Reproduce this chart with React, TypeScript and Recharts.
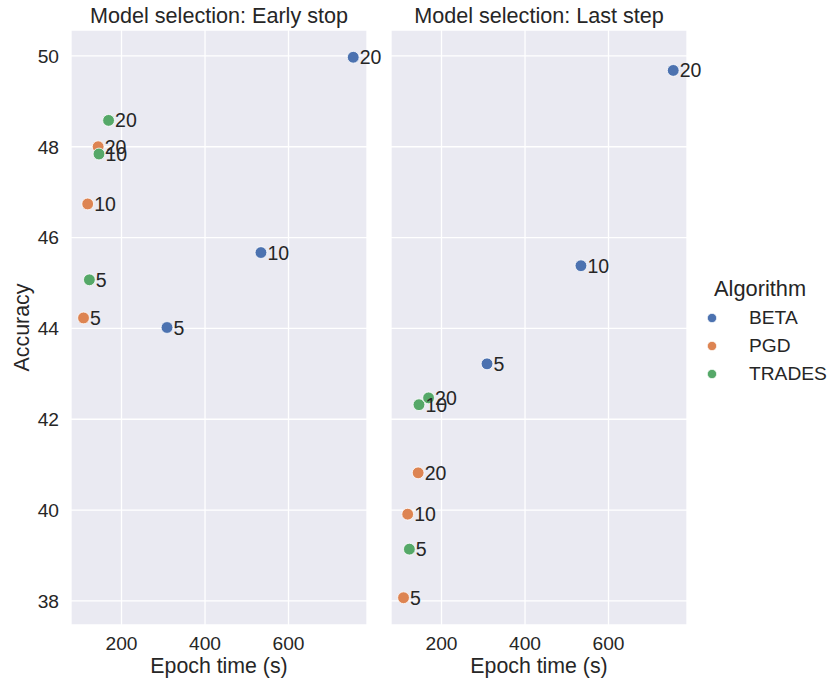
import { ScatterChart, Scatter, XAxis, YAxis, CartesianGrid, LabelList } from 'recharts'

const ALGORITHMS = ['BETA', 'PGD', 'TRADES']
const COLORS = ['#4C72B0', '#DD8452', '#55A868']
const STEPS = [5, 10, 20]

// epoch time (s) per number of attack steps
const BETA_TIME = [309, 534, 755]
const PGD_TIME = [109, 119, 144]
const TRADES_TIME = [123, 146, 169]

// accuracy, model selection: early stop
const BETA_EARLY = [44.02, 45.67, 49.97]
const PGD_EARLY = [44.23, 46.74, 48.0]
const TRADES_EARLY = [45.07, 47.84, 48.58]

// accuracy, model selection: last step
const BETA_LAST = [43.22, 45.38, 49.68]
const PGD_LAST = [38.07, 39.91, 40.82]
const TRADES_LAST = [39.14, 42.32, 42.47]

const X_TICKS = [200, 400, 600]
const Y_TICKS = [38, 40, 42, 44, 46, 48, 50]
const X_DOMAIN = [79, 788]
const Y_DOMAIN = [37.47, 50.57]

const FONT = '"Liberation Sans", Arial, sans-serif'
const TEXT = '#262626'

const points = (times: number[], acc: number[]) =>
  STEPS.map((s, i) => ({ time: times[i], acc: acc[i], steps: s }))

const EARLY = [points(BETA_TIME, BETA_EARLY), points(PGD_TIME, PGD_EARLY), points(TRADES_TIME, TRADES_EARLY)]
const LAST = [points(BETA_TIME, BETA_LAST), points(PGD_TIME, PGD_LAST), points(TRADES_TIME, TRADES_LAST)]

const tickStyle = { fill: TEXT, fontSize: 19.2, fontFamily: FONT }

function StepLabel(props: any) {
  const { x, y, width, height, value } = props
  const cx = x + width / 2
  const cy = y + height / 2
  return (
    <text x={cx + 6.5} y={cy} dy="0.36em" fill={TEXT} fontSize={19.5} fontFamily={FONT}>
      {value}
    </text>
  )
}

function Panel({ series, withY }: { series: any[][]; withY: boolean }) {
  // plot area is 296px wide in both panels; extra right margin keeps labels visible
  return (
    <ScatterChart
      width={withY ? 400 : 380}
      height={683}
      margin={{ top: 30, right: withY ? 33 : 84, bottom: 0, left: 0 }}
      style={{ overflow: 'visible' }}
    >
      <CartesianGrid fill="#EAEAF2" stroke="#FFFFFF" strokeWidth={1.3} />
      <XAxis
        type="number"
        dataKey="time"
        domain={X_DOMAIN}
        ticks={X_TICKS}
        axisLine={false}
        tickLine={false}
        tickMargin={5}
        height={58}
        tick={tickStyle}
        label={{ value: 'Epoch time (s)', position: 'insideBottom', offset: 10, fill: TEXT, fontSize: 21.3, fontFamily: FONT }}
      />
      <YAxis
        type="number"
        dataKey="acc"
        domain={Y_DOMAIN}
        ticks={Y_TICKS}
        hide={!withY}
        width={71}
        axisLine={false}
        tickLine={false}
        tickMargin={6}
        tick={tickStyle}
        label={{
          content: ({ viewBox }: any) => {
            const lx = viewBox.x + 21
            const ly = viewBox.y + viewBox.height / 2
            return (
              <text
                x={lx}
                y={ly}
                transform={`rotate(-90 ${lx} ${ly})`}
                textAnchor="middle"
                dy="0.36em"
                fill={TEXT}
                fontSize={21.4}
                fontFamily={FONT}
              >
                Accuracy
              </text>
            )
          },
        }}
      />
      {series.map((data, i) => (
        <Scatter
          key={ALGORITHMS[i]}
          name={ALGORITHMS[i]}
          data={data}
          isAnimationActive={false}
          shape={(p: any) => (
            <circle cx={p.cx} cy={p.cy} r={5.9} fill={COLORS[i]} stroke="#FFFFFF" strokeWidth={0.8} />
          )}
        >
          <LabelList dataKey="steps" content={<StepLabel />} />
        </Scatter>
      ))}
    </ScatterChart>
  )
}

export default function App() {
  const title = {
    position: 'absolute' as const,
    top: 3,
    fontFamily: FONT,
    fontSize: 21.6,
    lineHeight: '26px',
    color: TEXT,
    textAlign: 'center' as const,
    whiteSpace: 'nowrap' as const,
  }
  return (
    <div style={{ position: 'absolute', left: 0, top: 0, width: 828, height: 683, background: '#fff', overflow: 'hidden' }}>
      <div style={{ position: 'absolute', left: 0, top: 0 }}>
        <Panel series={EARLY} withY />
      </div>
      <div style={{ position: 'absolute', left: 391, top: 0 }}>
        <Panel series={LAST} withY={false} />
      </div>
      <div style={{ ...title, left: 71, width: 296 }}>Model selection: Early stop</div>
      <div style={{ ...title, left: 391, width: 296 }}>Model selection: Last step</div>
      <div style={{ position: 'absolute', left: 699, top: 273, fontFamily: FONT, color: TEXT }}>
        <div style={{ fontSize: 21.8, marginLeft: 15, lineHeight: '31px' }}>Algorithm</div>
        {ALGORITHMS.map((a, i) => (
          <div key={a} style={{ display: 'flex', alignItems: 'center', height: 28, fontSize: 19.2 }}>
            <svg width={50} height={28}>
              <circle cx={13} cy={14} r={4.6} fill={COLORS[i]} stroke="#FFFFFF" strokeWidth={0.6} />
            </svg>
            <span>{a}</span>
          </div>
        ))}
      </div>
    </div>
  )
}
